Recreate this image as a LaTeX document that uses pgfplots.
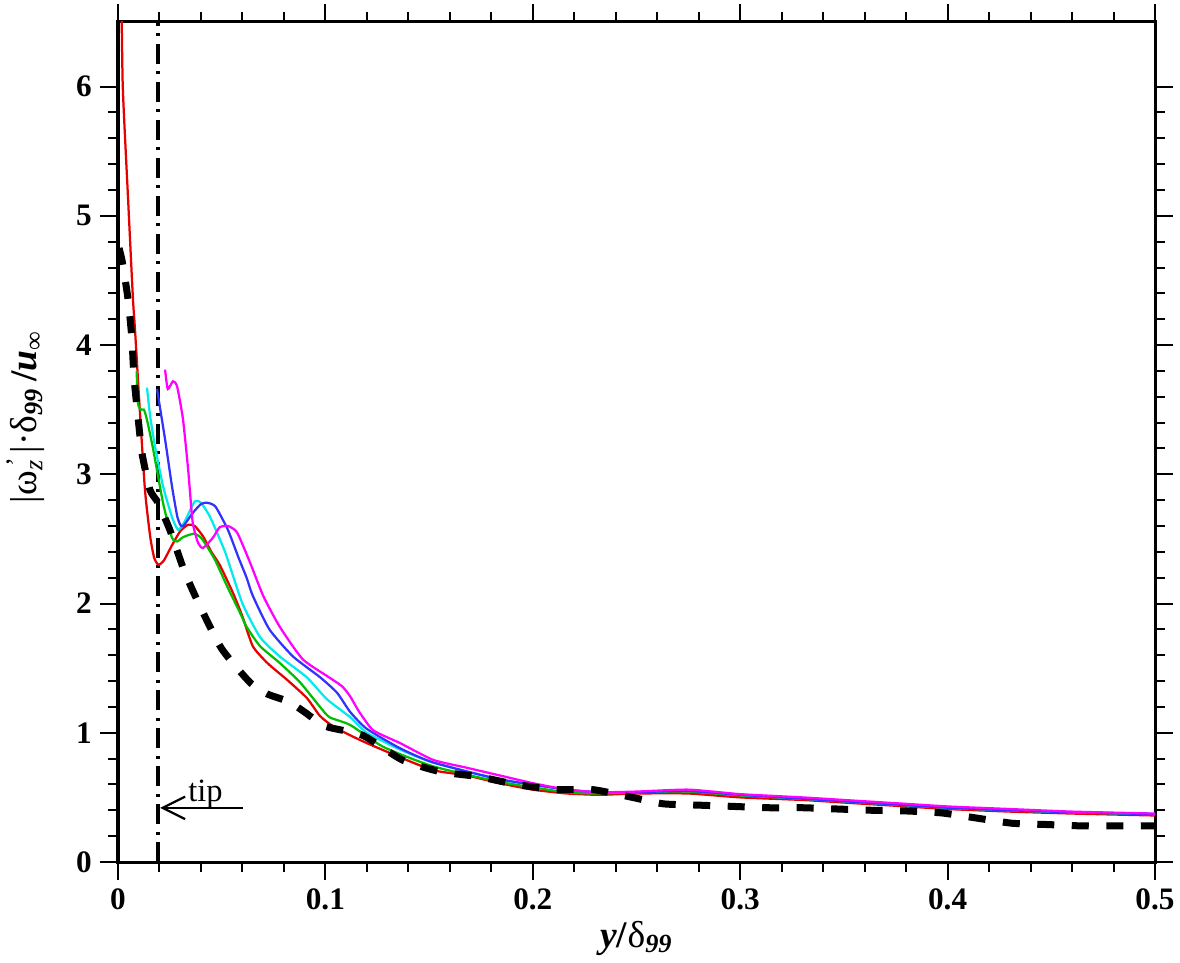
\documentclass[border=0pt]{standalone}
\usepackage{fontspec}
\setmainfont{Liberation Serif}
\usepackage{pgfplots}
\pgfplotsset{compat=1.18}
\usetikzlibrary{calc,arrows.meta}
\definecolor{cred}{RGB}{230,0,0}
\definecolor{cgreen}{RGB}{0,190,0}
\definecolor{ccyan}{RGB}{0,235,235}
\definecolor{cblue}{RGB}{50,50,255}
\definecolor{cmag}{RGB}{255,0,255}
\newcommand\supsub[2]{\rlap{\textsuperscript{#1}}\textsubscript{#2}}
\begin{document}
\begin{tikzpicture}
\begin{axis}[name=ax, scale only axis, width=414.8pt, height=336pt,
  xmin=0, xmax=0.5, ymin=0, ymax=6.5,
  xtick={0,0.1,0.2,0.3,0.4,0.5}, xticklabels={0,0.1,0.2,0.3,0.4,0.5},
  ytick={0,1,2,3,4,5,6}, yticklabels={0,1,2,3,4,5,6},
  minor x tick num=4, minor y tick num=4,
  tick align=outside, tick pos=both,
  major tick length=7pt, minor tick length=4pt,
  axis line style={line width=1.2pt},
  every tick/.style={black, line width=0.8pt},
  ticklabel style={font=\fontsize{12.5}{14}\selectfont\bfseries},
  xlabel={\textbf{\textit{y}}\textbf{/}δ\textsubscript{\textbf{\textit{99}}}},
  ylabel={|ω\supsub{\,'}{\textit{z}}\,|·δ\textsubscript{\textbf{\textit{99}}}\,\textbf{/\textit{u}}\textsubscript{∞}},
  xlabel style={font=\fontsize{15}{17}\selectfont, at={(axis description cs:0.5,-0.0905)}, anchor=center},
  ylabel style={font=\fontsize{15}{17}\selectfont, at={(axis description cs:-0.089,0.53)}, anchor=center},
  clip=true,
  every axis plot/.append style={smooth, tension=0.35},
]
% vertical dash-dot line (tip position)
\addplot[black, line width=1.4pt, dash pattern=on 8pt off 3pt on 1.2pt off 3pt, sharp plot] coordinates {(0.0193,0) (0.0193,6.5)};
% red
\addplot[cred, line width=0.9pt] coordinates {
(0.0016,6.8)(0.0023,6.0)(0.0048,5.15)(0.0072,4.36)(0.0082,4.12)(0.0105,3.5)(0.013,2.88)(0.0155,2.52)(0.0175,2.35)(0.0195,2.30)(0.022,2.33)(0.026,2.45)(0.030,2.56)(0.0338,2.61)(0.037,2.60)(0.041,2.52)(0.045,2.40)(0.049,2.30)(0.0555,2.08)(0.060,1.90)(0.065,1.67)(0.072,1.54)(0.0815,1.41)(0.091,1.27)(0.0974,1.13)(0.1037,1.05)(0.112,0.98)(0.12,0.92)(0.136,0.81)(0.152,0.71)(0.168,0.67)(0.184,0.61)(0.2,0.56)(0.2165,0.53)(0.232,0.52)
(0.25,0.53)(0.275,0.53)(0.3,0.50)(0.33,0.48)(0.35,0.46)(0.38,0.43)(0.4,0.41)(0.43,0.39)(0.46,0.375)(0.5,0.36)};
% green
\addplot[cgreen, line width=0.9pt] coordinates {
(0.009,3.80)(0.0096,3.55)(0.0110,3.50)(0.0125,3.50)(0.0140,3.42)(0.017,3.19)(0.0217,2.78)(0.026,2.51)(0.0285,2.48)(0.031,2.51)(0.034,2.53)(0.037,2.54)(0.040,2.51)(0.043,2.44)(0.047,2.33)(0.053,2.12)(0.0588,1.93)(0.062,1.82)(0.0685,1.67)(0.078,1.54)(0.0878,1.39)(0.0974,1.20)(0.102,1.12)(0.112,1.06)(0.128,0.89)(0.152,0.74)(0.184,0.62)(0.216,0.54)(0.232,0.53)
(0.25,0.54)(0.275,0.545)(0.3,0.515)(0.33,0.49)(0.35,0.47)(0.38,0.44)(0.4,0.42)(0.43,0.40)(0.46,0.385)(0.5,0.37)};
% cyan
\addplot[ccyan, line width=0.9pt] coordinates {
(0.014,3.67)(0.0155,3.45)(0.0178,3.22)(0.0217,2.91)(0.026,2.67)(0.029,2.57)(0.032,2.63)(0.037,2.79)(0.040,2.78)(0.0444,2.67)(0.0506,2.44)(0.0525,2.36)(0.060,2.0)(0.0685,1.74)(0.078,1.59)(0.091,1.43)(0.1007,1.26)(0.112,1.12)(0.12,1.0)(0.136,0.87)(0.152,0.77)(0.184,0.64)(0.2165,0.56)(0.232,0.54)
(0.25,0.54)(0.275,0.555)(0.3,0.52)(0.33,0.49)(0.35,0.47)(0.38,0.44)(0.4,0.42)(0.43,0.40)(0.46,0.385)(0.5,0.37)};
% blue
\addplot[cblue, line width=0.9pt] coordinates {
(0.0188,3.66)(0.0227,3.27)(0.026,2.91)(0.0285,2.68)(0.030,2.61)(0.0315,2.60)(0.036,2.70)(0.040,2.77)(0.043,2.78)(0.047,2.75)(0.053,2.57)(0.058,2.36)(0.062,2.20)(0.065,2.06)(0.073,1.80)(0.0844,1.59)(0.0974,1.43)(0.1056,1.31)(0.112,1.16)(0.12,1.03)(0.136,0.88)(0.152,0.77)(0.184,0.64)(0.2165,0.56)(0.232,0.54)
(0.25,0.54)(0.275,0.55)(0.3,0.52)(0.33,0.49)(0.35,0.47)(0.38,0.44)(0.4,0.42)(0.43,0.40)(0.46,0.385)(0.5,0.37)};
% magenta
\addplot[cmag, line width=0.9pt] coordinates {
(0.0227,3.81)(0.024,3.66)(0.0265,3.72)(0.0285,3.68)(0.0313,3.43)(0.0338,3.04)(0.036,2.63)(0.0386,2.47)(0.041,2.43)(0.0458,2.51)(0.049,2.59)(0.053,2.60)(0.0574,2.55)(0.0636,2.32)(0.070,2.06)(0.078,1.82)(0.089,1.57)(0.1007,1.44)(0.108,1.36)(0.112,1.28)(0.116,1.17)(0.123,1.02)(0.136,0.92)(0.152,0.79)(0.168,0.73)(0.184,0.67)(0.2,0.61)(0.2165,0.56)(0.232,0.54)
(0.25,0.545)(0.275,0.56)(0.3,0.525)(0.33,0.50)(0.35,0.48)(0.38,0.45)(0.4,0.43)(0.43,0.41)(0.46,0.39)(0.5,0.375)};
% black dashed
\addplot[black, line width=2.8pt, dash pattern=on 6.8pt off 7pt] coordinates {
(0.0005,4.75)(0.002,4.65)(0.0048,4.36)(0.0067,4.05)(0.0077,3.75)(0.0096,3.45)(0.0116,3.16)(0.0154,2.88)(0.0193,2.78)(0.025,2.57)(0.032,2.25)(0.0395,1.98)(0.05,1.65)(0.0636,1.39)(0.072,1.30)(0.0825,1.24)(0.09,1.16)(0.1,1.05)(0.118,0.98)(0.137,0.79)(0.155,0.70)(0.174,0.66)(0.192,0.60)(0.211,0.56)(0.229,0.56)(0.248,0.50)(0.263,0.45)(0.28,0.44)(0.297,0.43)(0.313,0.42)(0.33,0.42)(0.347,0.41)(0.364,0.40)(0.38,0.395)(0.397,0.38)(0.414,0.34)(0.431,0.30)(0.448,0.29)(0.464,0.28)(0.5,0.28)};
% tip annotation
\draw[line width=0.9pt, -{Straight Barb[length=9pt,width=9pt,line width=0.9pt]}] (axis cs:0.0603,0.419) -- (axis cs:0.0203,0.419);
\node[anchor=base, font=\fontsize{13}{15}\selectfont, inner sep=0pt] at (axis cs:0.0422,0.465) {tip};
\end{axis}
\pgfresetboundingbox
\path[use as bounding box] ($(ax.south west)+(-47.2pt,-40pt)$) rectangle ($(ax.north east)+(10pt,8.8pt)$);
\end{tikzpicture}
\end{document}
